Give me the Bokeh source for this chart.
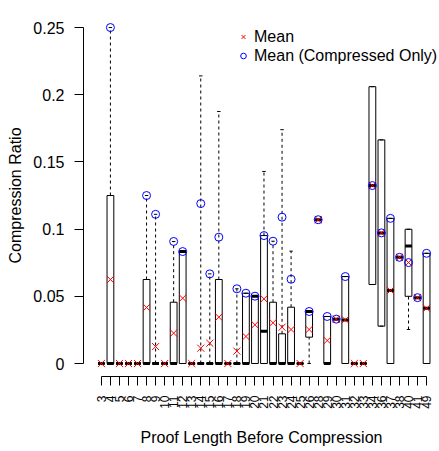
import math
from bokeh.plotting import figure
from bokeh.models import Range1d, FixedTicker, Legend, LegendItem
from bokeh.embed import file_html
from bokeh.resources import INLINE

categories = ["3", "4", "5", "6", "7", "8", "9", "10", "11", "12", "13", "14", "15", "16",
              "17", "18", "19", "20", "21", "22", "23", "24", "25", "26", "28", "29", "30",
              "31", "32", "33", "34", "36", "37", "38", "40", "41", "49"]

lower_whisker = [0, 0, 0, 0, 0, 0, 0, 0, 0, 0, 0, 0, 0, 0, 0, 0, 0, 0, 0, 0, 0, 0, 0, 0,
                 0.107, 0, 0.033, 0, 0, 0, 0.0588, 0.0278, 0, 0.079, 0.0253, 0.049, 0]
q1 = [0, 0, 0, 0, 0, 0, 0, 0, 0, 0, 0, 0, 0, 0, 0, 0, 0, 0, 0, 0, 0, 0, 0, 0.0196,
      0.107, 0, 0.033, 0, 0, 0, 0.0588, 0.0278, 0, 0.079, 0.05, 0.049, 0]
median = [0, 0, 0, 0, 0, 0, 0, 0, 0, 0.0833, 0, 0, 0, 0, 0, 0, 0, 0.0501, 0.024, 0, 0, 0, 0, 0.0387,
          0.107, 0, 0.033, 0.0323, 0, 0, 0.1324, 0.0972, 0.0543, 0.079, 0.0875, 0.049, 0.0411]
q3 = [0, 0.125, 0, 0, 0, 0.0625, 0, 0, 0.0456, 0.0833, 0, 0, 0, 0.0625, 0, 0, 0.0523, 0.0501,
      0.0952, 0.0456, 0.0221, 0.0419, 0, 0.0387,
      0.107, 0.035, 0.033, 0.0647, 0, 0, 0.206, 0.1664, 0.108, 0.079, 0.0999, 0.049, 0.082]
upper_whisker = [0, 0.25, 0, 0, 0, 0.125, 0.111, 0, 0.0908, 0.0833, 0, 0.214, 0.0667, 0.1875, 0,
                 0.0556, 0.0523, 0.0501, 0.1429, 0.091, 0.174, 0.0836, 0, 0.0387,
                 0.107, 0.035, 0.033, 0.0647, 0, 0, 0.206, 0.1664, 0.108, 0.079, 0.0999, 0.049, 0.082]
mean_all = [0, 0.0625, 0, 0, 0, 0.0417, 0.0126, 0, 0.0226, 0.0486, 0, 0.0114, 0.0151, 0.0345, 0,
            0.0092, 0.0201, 0.0288, 0.0481, 0.0303, 0.027, 0.0253, 0, 0.0253,
            0.107, 0.0171, 0.033, 0.0325, 0, 0, 0.1324, 0.0972, 0.0543, 0.079, 0.0751, 0.049, 0.0411]
mean_compressed = [None, 0.25, None, None, None, 0.125, 0.111, None, 0.0908, 0.0833, None, 0.119,
                   0.0667, 0.094, None, 0.0556, 0.0523, 0.0501, 0.0952, 0.091, 0.1089, 0.0627, None,
                   0.0387, 0.107, 0.035, 0.033, 0.0647, None, None, 0.1324, 0.0972, 0.108, 0.079,
                   0.0751, 0.049, 0.082]

y_ticks = [0, 0.05, 0.1, 0.15, 0.2, 0.25]
y_tick_labels = ["0", "0.05", "0.1", "0.15", "0.2", "0.25"]

FONT = "Liberation Sans"
n = len(categories)
xs = list(range(1, n + 1))
half = 0.375
staple = 0.19

p = figure(width=439, height=451, output_backend="svg", toolbar_location=None,
           x_range=Range1d(-0.98, 38.43), y_range=Range1d(-0.00967, 0.2597),
           min_border_left=83, min_border_right=0, min_border_top=14, min_border_bottom=75)
p.outline_line_color = None
p.grid.visible = False
p.background_fill_color = "white"
p.border_fill_color = "white"

# boxes
p.quad(left=[x - half for x in xs], right=[x + half for x in xs], bottom=q1, top=q3,
       fill_color="white", line_color="black", line_width=1)

# whiskers
ux = [x for x, a, b in zip(xs, q3, upper_whisker) if b > a]
uy0 = [a for a, b in zip(q3, upper_whisker) if b > a]
uy1 = [b for a, b in zip(q3, upper_whisker) if b > a]
p.segment(x0=ux, y0=uy0, x1=ux, y1=uy1, line_color="black", line_dash="3 3", line_width=1)
lx = [x for x, a, b in zip(xs, lower_whisker, q1) if b > a]
ly0 = [a for a, b in zip(lower_whisker, q1) if b > a]
ly1 = [b for a, b in zip(lower_whisker, q1) if b > a]
p.segment(x0=lx, y0=ly0, x1=lx, y1=ly1, line_color="black", line_dash="3 3", line_width=1)

# staples
p.segment(x0=[x - staple for x in xs], y0=upper_whisker, x1=[x + staple for x in xs], y1=upper_whisker,
          line_color="black", line_width=1)
p.segment(x0=[x - staple for x in xs], y0=lower_whisker, x1=[x + staple for x in xs], y1=lower_whisker,
          line_color="black", line_width=1)

# medians
p.segment(x0=[x - half for x in xs], y0=median, x1=[x + half for x in xs], y1=median,
          line_color="black", line_width=3)

# means
r_mean = p.scatter(x=xs, y=mean_all, marker="x", size=10, line_color="red", line_width=1)
cx = [x for x, v in zip(xs, mean_compressed) if v is not None]
cy = [v for v in mean_compressed if v is not None]
r_mc = p.scatter(x=cx, y=cy, marker="circle", size=8, fill_color=None, line_color="blue", line_width=1)

legend = Legend(items=[LegendItem(label="Mean", renderers=[r_mean]),
                       LegendItem(label="Mean (Compressed Only)", renderers=[r_mc])],
                location=(153, 311), padding=0, margin=0, spacing=0,
                glyph_width=14, glyph_height=19, label_height=19, label_standoff=4,
                border_line_color=None, background_fill_alpha=0,
                label_text_font=FONT, label_text_font_size="16px", label_text_color="black")
p.add_layout(legend)

# axes
xa = p.xaxis[0]
xa.ticker = FixedTicker(ticks=xs)
xa.major_label_overrides = {x: c for x, c in zip(xs, categories)}
xa.bounds = (1, n)
xa.major_label_orientation = math.pi / 2
xa.major_label_text_font = FONT
xa.major_label_text_font_size = "12px"
xa.major_label_text_color = "black"
xa.major_tick_in = 0
xa.major_tick_out = 9
xa.minor_tick_line_color = None
xa.major_label_standoff = 10
xa.axis_label = "Proof Length Before Compression"
xa.axis_label_text_font = FONT
xa.axis_label_text_font_size = "16px"
xa.axis_label_text_font_style = "normal"
xa.axis_label_text_color = "black"
xa.axis_label_standoff = 17
xa.axis_line_color = "black"
xa.major_tick_line_color = "black"

ya = p.yaxis[0]
ya.ticker = FixedTicker(ticks=y_ticks)
ya.major_label_overrides = {t: l for t, l in zip(y_ticks, y_tick_labels)}
ya.bounds = (0, 0.25)
ya.major_label_text_font = FONT
ya.major_label_text_font_size = "16px"
ya.major_label_text_color = "black"
ya.major_tick_in = 0
ya.major_tick_out = 9
ya.minor_tick_line_color = None
ya.major_label_standoff = 10
ya.axis_label = "Compression Ratio"
ya.axis_label_text_font = FONT
ya.axis_label_text_font_size = "16px"
ya.axis_label_text_font_style = "normal"
ya.axis_label_text_color = "black"
ya.axis_label_standoff = 6
ya.axis_line_color = "black"
ya.major_tick_line_color = "black"

open("out.html", "w").write(file_html(p, INLINE))
